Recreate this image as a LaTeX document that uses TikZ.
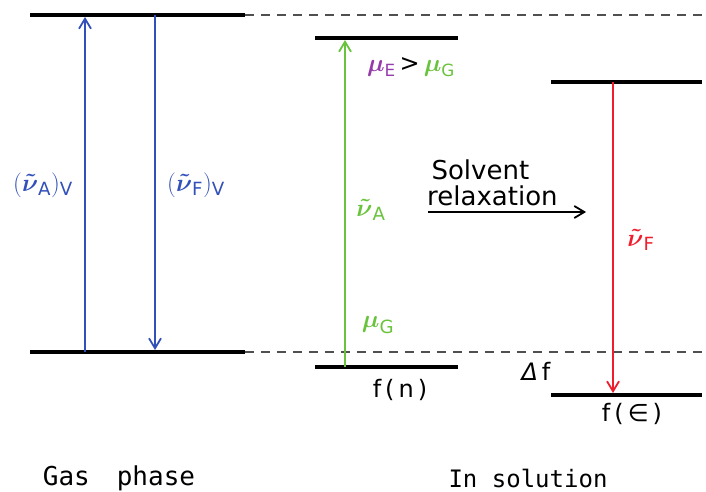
\documentclass[tikz,border=0pt]{standalone}
\usepackage{amsmath}
\usepackage{fontspec}
\setmainfont{DejaVu Sans}
\newfontfamily\monofam{DejaVu Sans Mono}
\usetikzlibrary{arrows.meta}
\definecolor{cblue}{RGB}{50,80,185}
\definecolor{cgreen}{RGB}{105,195,60}
\definecolor{cred}{RGB}{240,30,45}
\definecolor{cpurple}{RGB}{150,60,170}
\definecolor{cdash}{RGB}{80,80,80}
\begin{document}
\begin{tikzpicture}[x=1pt,y=-1pt,
  level/.style={line width=3.2pt,black},
  dashline/.style={line width=1.5pt,cdash,dash pattern=on 9pt off 7pt},
  trans/.style={line width=1.8pt,-{Straight Barb[length=10pt,width=12pt,line width=1.8pt]}},
  lbl/.style={inner sep=0pt,font=\fontsize{24}{28}\selectfont},
  glbl/.style={inner sep=0pt,font=\fontsize{26}{30}\selectfont},
  biglbl/.style={inner sep=0pt,font=\monofam\fontsize{24}{28}\selectfont}]
\useasboundingbox (0,0) rectangle (706,492);
% gas phase levels
\coordinate (gT1) at (30,15);  \coordinate (gT2) at (245,15);
\coordinate (gB1) at (30,352); \coordinate (gB2) at (245,352);
\coordinate (dT) at (706,15);  \coordinate (dB) at (706,352);
\draw[dashline] (gT2) -- (dT);
\draw[dashline] (gB2) -- (dB);
\draw[level] (gT1) -- (gT2);
\draw[level] (gB1) -- (gB2);
% solution levels
\coordinate (sE1) at (315,38);  \coordinate (sE2) at (458,38);
\coordinate (sG1) at (315,367); \coordinate (sG2) at (458,367);
\coordinate (rE1) at (551,82);  \coordinate (rE2) at (702,82);
\coordinate (rG1) at (551,395); \coordinate (rG2) at (702,395);
\draw[level] (sE1) -- (sE2);
\draw[level] (sG1) -- (sG2);
\draw[level] (rE1) -- (rE2);
\draw[level] (rG1) -- (rG2);
% transitions
\coordinate (aA0) at (85,352);  \coordinate (aA1) at (85,17);
\coordinate (aF0) at (155,15);  \coordinate (aF1) at (155,350);
\coordinate (sA0) at (345,367); \coordinate (sA1) at (345,40);
\coordinate (rF0) at (613,82);  \coordinate (rF1) at (613,393);
\coordinate (sr0) at (428,212); \coordinate (sr1) at (586,212);
\draw[trans,cblue] (aA0) -- (aA1);
\draw[trans,cblue] (aF0) -- (aF1);
\draw[trans,cgreen] (sA0) -- (sA1);
\draw[trans,cred] (rF0) -- (rF1);
\draw[trans,black] (sr0) -- (sr1);
% labels
\node[glbl,text=cblue] (nuAv) at (43,185) {$(\boldsymbol{\tilde{\nu}}_{\text{A}})_{\text{V}}$};
\node[glbl,text=cblue] (nuFv) at (196,185) {$(\boldsymbol{\tilde{\nu}}_{\text{F}})_{\text{V}}$};
\node[lbl] (mu) at (411,67) {{\color{cpurple}$\boldsymbol{\mu}_{\text{E}}$}\,>\,{\color{cgreen}$\boldsymbol{\mu}_{\text{G}}$}};
\node[glbl,text=cgreen] (nuA) at (371,210) {$\boldsymbol{\tilde{\nu}}_{\text{A}}$};
\node[glbl,text=cgreen] (muG) at (378,325) {$\boldsymbol{\mu}_{\text{G}}$};
\node[lbl] (fn) at (400,390) {f\,(\,n\,)};
\node[inner sep=0pt,font=\fontsize{26}{26}\selectfont,align=left,anchor=west] (solv) at (427,183) {\,Solvent\\relaxation};
\node[glbl,text=cred] (nuF) at (641,240) {$\boldsymbol{\tilde{\nu}}_{\text{F}}$};
\node[lbl] (df) at (536,371) {\textit{Δ}\,f};
\node[lbl] (fe) at (632,414) {f\,(\,∈\,)};
\node[inner sep=0pt,font=\monofam\fontsize{26}{30}\selectfont] (gas) at (119,478) {Gas\hspace{1.04em}phase};
\node[biglbl] (sol) at (528,478) {In solution};
\end{tikzpicture}
\end{document}
